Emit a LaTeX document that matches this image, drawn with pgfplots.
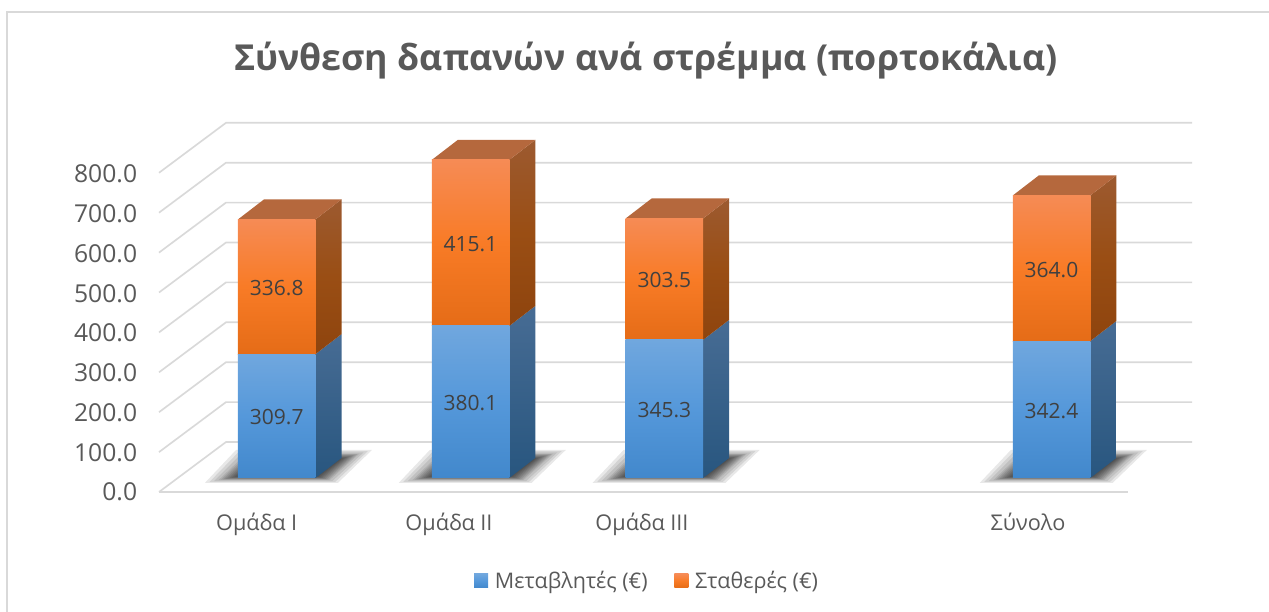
\documentclass[border=0pt]{standalone}
\usepackage{fontspec}
\setmainfont{Open Sans}
\usepackage{pgfplots}
\usepackage{pgfplotstable}
\pgfplotsset{compat=1.18}
\definecolor{gridc}{HTML}{D9D9D9}
\definecolor{txt}{HTML}{595959}
\definecolor{lab}{HTML}{404040}
\definecolor{bT}{HTML}{70A7DE}\definecolor{bM}{HTML}{5598DA}\definecolor{bB}{HTML}{4288CC}
\definecolor{oT}{HTML}{F68B55}\definecolor{oM}{HTML}{F87B26}\definecolor{oB}{HTML}{E56C17}
\definecolor{bsT}{HTML}{476C94}\definecolor{bsB}{HTML}{28567F}
\definecolor{osT}{HTML}{9C5A30}\definecolor{osM}{HTML}{9A4E14}\definecolor{osB}{HTML}{8E440E}
\definecolor{tp}{HTML}{B5683D}
\newcommand\ytfont{\fontsize{14.8}{18}\selectfont}
\newcommand\xtfont{\fontsize{13}{16}\selectfont}
\newcommand\dlfont{\fontsize{12.6}{16}\selectfont}
\newcommand\lgfont{\fontsize{12.9}{16}\selectfont}
\pgfplotstableread{
xa ya xb yb
205 -12 250 10
338 -12 310 10
372 70 330 40
236 70 270 40
}\shadowtab
\newcommand\barshadow[1]{%
\pgfplotsinvokeforeach{0,0.1,0.2,0.3,0.35,0.4,0.45,0.5,0.55,0.6,0.65,0.7,0.75,0.8,0.85,0.9,1}{%
\addplot[draw=none,fill=black,fill opacity=0.09] table[x expr=\thisrow{xa}*(1-##1)+\thisrow{xb}*##1+#1,y expr=\thisrow{ya}*(1-##1)+\thisrow{yb}*##1]{\shadowtab} -- cycle;
}}
\newcommand\gridl[2]{\addplot[gridc,line width=1pt] coordinates {(159,#1)(226,#2)(1192,#2)};}
\pgfplotsset{
  barax/.style={
    x=0.6pt,y=0.24pt,xmin=0,xmax=1269,ymin=-335,ymax=1195,
    hide axis,
    ybar stacked,bar width=77.5,
    /pgf/number format/assume math mode=true,
    visualization depends on=rawy \as \rawy,
    nodes near coords={\pgfmathprintnumber[fixed,fixed zerofill,precision=1]{\rawy}},
    every node near coord/.append style={font=\dlfont,text=lab,anchor=center,yshift=-0.8pt},
  },
  blueb/.style={draw=none,top color=bT,bottom color=bB,middle color=bM},
  orangeb/.style={draw=none,top color=oT,bottom color=oB,middle color=oM},
}
\begin{document}
\begin{tikzpicture}
\begin{axis}[
  x=0.6pt,y=0.24pt,xmin=0,xmax=1269,ymin=-335,ymax=1195,
  axis line style={draw=none},tick style={draw=none},
  xtick={256.7,449,642,1028},
  xticklabels={Ομάδα I,Ομάδα II,Ομάδα III,Σύνολο},
  ytick={-35,64.4,163.8,263.1,362.5,461.9,561.3,660.6,760},
  yticklabels={0.0,100.0,200.0,300.0,400.0,500.0,600.0,700.0,800.0},
  xticklabel style={font=\xtfont,text=txt,anchor=base,yshift=48.6pt},
  yticklabel style={font=\ytfont,text=txt,anchor=east,xshift=85.8pt},
  title={Σύνθεση δαπανών ανά στρέμμα (πορτοκάλια)},
  title style={font=\fontsize{21.46}{26}\selectfont\bfseries,text=txt,at={(axis description cs:0.509,0.884)},anchor=center},
]
% frame
\addplot[gridc,line width=1pt] coordinates {(7,-335)(7,1165)(1269,1165)};
% gridlines
\gridl{-35}{90}\gridl{64.75}{189.75}\gridl{164.5}{289.5}\gridl{264.25}{389.25}\gridl{364}{489}
\gridl{463.75}{588.75}\gridl{563.5}{688.5}\gridl{663.25}{788.25}\gridl{763}{888}
\addplot[gridc,line width=1pt] coordinates {(159,-35)(1128,-35)};
% shadows
\barshadow{0}\barshadow{193.8}\barshadow{387.6}\barshadow{774.8}
% bar 1
\addplot[draw=none,top color=bsT,bottom color=bsB] coordinates {(315.5,0)(341.5,50)(341.5,359.7)(315.5,309.7)} -- cycle;
\addplot[draw=none,top color=osT,bottom color=osB,middle color=osM] coordinates {(315.5,309.7)(341.5,359.7)(341.5,696.5)(315.5,646.5)} -- cycle;
\addplot[draw=none,fill=tp] coordinates {(238,646.5)(264,696.5)(341.5,696.5)(315.5,646.5)} -- cycle;
% bar 2
\addplot[draw=none,top color=bsT,bottom color=bsB] coordinates {(509.3,0)(535.3,50)(535.3,430.1)(509.3,380.1)} -- cycle;
\addplot[draw=none,top color=osT,bottom color=osB,middle color=osM] coordinates {(509.3,380.1)(535.3,430.1)(535.3,845.2)(509.3,795.2)} -- cycle;
\addplot[draw=none,fill=tp] coordinates {(431.8,795.2)(457.8,845.2)(535.3,845.2)(509.3,795.2)} -- cycle;
% bar 3
\addplot[draw=none,top color=bsT,bottom color=bsB] coordinates {(703.1,0)(729.1,50)(729.1,395.3)(703.1,345.3)} -- cycle;
\addplot[draw=none,top color=osT,bottom color=osB,middle color=osM] coordinates {(703.1,345.3)(729.1,395.3)(729.1,698.8)(703.1,648.8)} -- cycle;
\addplot[draw=none,fill=tp] coordinates {(625.6,648.8)(651.6,698.8)(729.1,698.8)(703.1,648.8)} -- cycle;
% bar 4
\addplot[draw=none,top color=bsT,bottom color=bsB] coordinates {(1090.3,0)(1116.3,50)(1116.3,392.4)(1090.3,342.4)} -- cycle;
\addplot[draw=none,top color=osT,bottom color=osB,middle color=osM] coordinates {(1090.3,342.4)(1116.3,392.4)(1116.3,756.4)(1090.3,706.4)} -- cycle;
\addplot[draw=none,fill=tp] coordinates {(1012.8,706.4)(1038.8,756.4)(1116.3,756.4)(1090.3,706.4)} -- cycle;
\end{axis}
\begin{axis}[barax,
  legend columns=2,
  legend style={draw=none,fill=none,font=\lgfont,text=txt,at={(0.5105,0.0507)},anchor=center,
    /tikz/every even column/.append style={column sep=14pt}},
  legend image code/.code={\path (0pt,0pt) rectangle (10.4pt,0pt);\path[#1] (0pt,-4.2pt) rectangle (8.4pt,4.2pt);},
]
\addplot[blueb] coordinates {(276.7,309.7)};
\addplot[orangeb] coordinates {(276.7,336.8)};
\legend{Μεταβλητές (€),Σταθερές (€)}
\end{axis}
\begin{axis}[barax]
\addplot[blueb] coordinates {(470.5,380.1)};
\addplot[orangeb] coordinates {(470.5,415.1)};
\end{axis}
\begin{axis}[barax]
\addplot[blueb] coordinates {(664.3,345.3)};
\addplot[orangeb] coordinates {(664.3,303.5)};
\end{axis}
\begin{axis}[barax]
\addplot[blueb] coordinates {(1051.5,342.4)};
\addplot[orangeb] coordinates {(1051.5,364.0)};
\end{axis}
\end{tikzpicture}
\end{document}
